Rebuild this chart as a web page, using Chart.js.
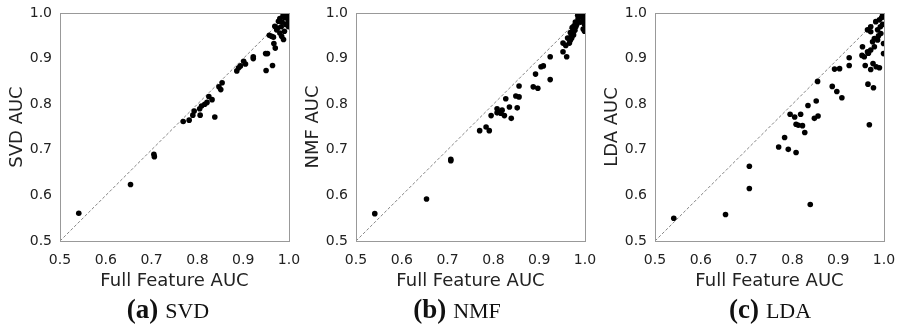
<!DOCTYPE html>
<html><head><meta charset="utf-8">
<script src="https://cdn.jsdelivr.net/npm/chart.js@4.4.0/dist/chart.umd.min.js"></script>
<style>
html,body{margin:0;padding:0;background:#fff;width:899px;height:324px;overflow:hidden;position:relative}
.panel{position:absolute;top:0;width:300px;height:300px}
.cap{position:absolute;top:295px;line-height:28px;font-family:"Liberation Serif",serif;color:#111;white-space:nowrap;transform:translateX(-50%)}
.cap b{font-size:27px}
.cap span{font-size:22px;margin-left:7px}
</style></head>
<body>
<div class="panel" style="left:0px"><canvas id="c1" width="300" height="300"></canvas></div>
<div class="panel" style="left:296px"><canvas id="c2" width="300" height="300"></canvas></div>
<div class="panel" style="left:595px"><canvas id="c3" width="300" height="300"></canvas></div>
<div class="cap" style="left:168px"><b>(a)</b><span>SVD</span></div>
<div class="cap" style="left:457px"><b>(b)</b><span>NMF</span></div>
<div class="cap" style="left:770px"><b>(c)</b><span>LDA</span></div>
<script>
const axisTicks = [0.5, 0.6, 0.7, 0.8, 0.9, 1.0];
const diagonal = [0.5, 1.0];

const svdFull = [0.541,0.654,0.705,0.706,0.769,0.782,0.790,0.793,0.806,0.805,0.809,0.816,0.821,0.825,0.832,0.838,0.847,0.851,0.854,0.886,0.890,0.894,0.901,0.905,0.922,0.922,0.949,0.953,0.950,0.964,0.957,0.962,0.966,0.967,0.970,0.969,0.973,0.980,0.984,0.988,0.977,0.987,0.990,0.995,0.997,0.998,0.993,0.998,0.980,0.983,0.990,0.975,0.985,0.999,0.999];
const svdAUC  = [0.561,0.624,0.690,0.685,0.762,0.765,0.776,0.785,0.776,0.790,0.796,0.800,0.804,0.817,0.810,0.772,0.838,0.832,0.847,0.873,0.880,0.884,0.894,0.888,0.904,0.900,0.911,0.911,0.874,0.885,0.951,0.949,0.947,0.933,0.923,0.971,0.963,0.956,0.949,0.942,0.982,0.995,0.990,0.998,0.992,0.985,0.975,0.978,0.988,0.970,0.960,0.967,0.980,0.970,0.994];

const nmfFull = [0.541,0.654,0.707,0.707,0.770,0.784,0.791,0.795,0.808,0.813,0.819,0.824,0.816,0.808,0.827,0.835,0.839,0.849,0.856,0.852,0.856,0.887,0.897,0.892,0.904,0.909,0.924,0.924,0.952,0.960,0.952,0.958,0.966,0.962,0.968,0.970,0.968,0.973,0.975,0.978,0.972,0.976,0.980,0.982,0.979,0.985,0.988,0.992,0.995,0.998,0.997,0.999,0.996,0.999,0.990,0.984,0.975,0.971];
const nmfAUC  = [0.560,0.592,0.679,0.676,0.742,0.750,0.742,0.775,0.790,0.783,0.787,0.775,0.780,0.781,0.812,0.794,0.769,0.818,0.816,0.792,0.840,0.838,0.835,0.866,0.882,0.884,0.904,0.854,0.915,0.904,0.934,0.929,0.934,0.945,0.940,0.950,0.957,0.960,0.966,0.962,0.968,0.972,0.970,0.975,0.980,0.988,0.993,0.998,0.990,0.996,0.985,0.975,0.965,0.960,0.980,0.995,0.952,0.945];

const ldaFull = [0.541,0.654,0.706,0.706,0.770,0.783,0.791,0.795,0.805,0.808,0.813,0.808,0.818,0.822,0.827,0.834,0.839,0.848,0.856,0.852,0.855,0.887,0.897,0.892,0.903,0.908,0.924,0.924,0.952,0.957,0.953,0.959,0.966,0.965,0.968,0.971,0.976,0.977,0.983,0.990,0.999,0.999,0.997,0.990,0.982,0.971,0.964,0.971,0.986,0.993,0.979,0.986,0.975,0.971,0.979,0.964,0.995,0.999,0.992,0.988,0.997];
const ldaAUC  = [0.550,0.558,0.664,0.615,0.706,0.727,0.701,0.778,0.772,0.756,0.754,0.694,0.778,0.753,0.738,0.797,0.580,0.769,0.774,0.807,0.850,0.839,0.828,0.877,0.878,0.814,0.902,0.885,0.907,0.904,0.926,0.885,0.912,0.844,0.755,0.876,0.889,0.836,0.882,0.880,0.933,0.911,0.996,0.985,0.981,0.970,0.963,0.959,0.963,0.955,0.944,0.941,0.937,0.919,0.926,0.915,0.990,0.998,0.970,0.950,0.975];

const frame = {
  id: 'frame',
  afterDatasetsDraw(chart) {
    const a = chart.chartArea, ctx = chart.ctx;
    ctx.save();
    ctx.strokeStyle = '#999';
    ctx.lineWidth = 1;
    ctx.strokeRect(Math.round(a.left) + 0.5, Math.round(a.top) + 0.5, Math.round(a.right - a.left), Math.round(a.bottom - a.top));
    ctx.restore();
  }
};

function makeChart(id, full, auc, yTitle) {
  const txt = '#222';
  new Chart(document.getElementById(id), {
    type: 'scatter',
    data: {
      datasets: [
        {
          type: 'line',
          data: diagonal.map(v => ({x: v, y: v})),
          borderColor: '#666', borderWidth: 0.8, borderDash: [3, 2],
          pointRadius: 0, fill: false, order: 2
        },
        {
          data: full.map((x, i) => ({x: x, y: auc[i]})),
          backgroundColor: '#000', borderColor: '#000',
          pointRadius: 2.8, pointBorderWidth: 0, order: 1
        }
      ]
    },
    options: {
      responsive: false, animation: false,
      layout: {padding: {left: 0, right: 11, top: 13, bottom: 0}},
      plugins: {legend: {display: false}, tooltip: {enabled: false}},
      scales: {
        x: {
          type: 'linear', min: 0.5, max: 1.0,
          afterBuildTicks: s => { s.ticks = axisTicks.map(v => ({value: v})); },
          ticks: {callback: v => Number(v).toFixed(1), font: {family: 'DejaVu Sans', size: 14}, color: txt, padding: 11, maxRotation: 0, autoSkip: false},
          grid: {display: false, drawTicks: false},
          border: {display: false},
          title: {display: true, text: 'Full Feature AUC', font: {family: 'DejaVu Sans', size: 18}, color: txt, padding: {top: 0, bottom: 8}},
          afterFit: s => { s.height = 59; s.paddingLeft = 0; s.paddingRight = 0; }
        },
        y: {
          type: 'linear', min: 0.5, max: 1.0,
          afterBuildTicks: s => { s.ticks = axisTicks.map(v => ({value: v})); },
          ticks: {callback: v => Number(v).toFixed(1), font: {family: 'DejaVu Sans', size: 14}, color: txt, padding: 8, autoSkip: false},
          grid: {display: false, drawTicks: false},
          border: {display: false},
          title: {display: true, text: yTitle, font: {family: 'DejaVu Sans', size: 18}, color: txt, padding: {top: 7, bottom: 0}},
          afterFit: s => { s.width = 60; s.paddingTop = 0; s.paddingBottom = 0; }
        }
      }
    },
    plugins: [frame]
  });
}

makeChart('c1', svdFull, svdAUC, 'SVD AUC');
makeChart('c2', nmfFull, nmfAUC, 'NMF AUC');
makeChart('c3', ldaFull, ldaAUC, 'LDA AUC');
</script>
</body></html>
